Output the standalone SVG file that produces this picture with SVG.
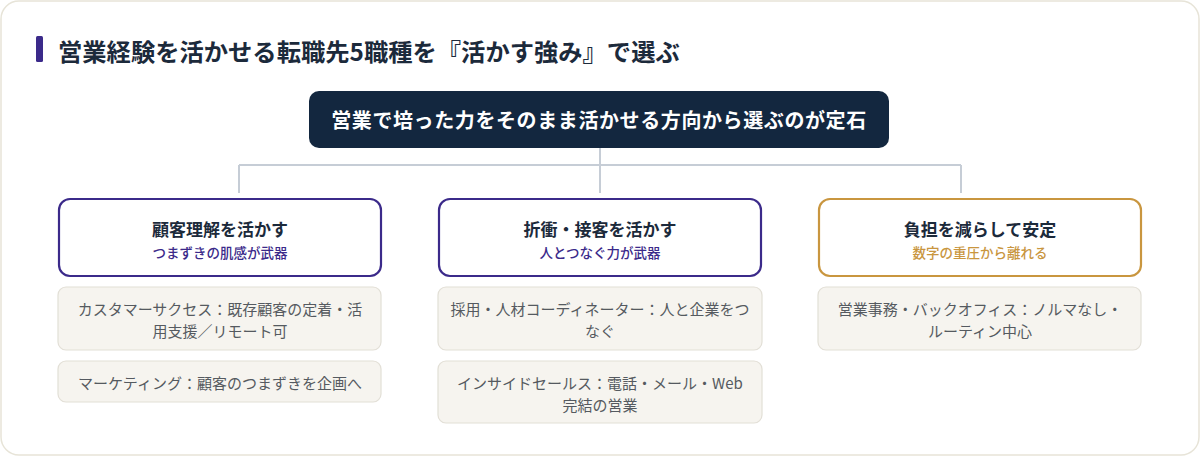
<svg xmlns="http://www.w3.org/2000/svg" width="1200" height="456" viewBox="0 0 1200 456">
<style>
text{font-family:"Noto Sans CJK JP","Noto Sans",sans-serif;text-anchor:middle;dominant-baseline:central}
.card{fill:#fff;stroke-width:2.2}
.purple{stroke:#3b2a8a}
.gold{stroke:#c9963f}
.ct{font-size:17px;font-weight:700;fill:#1c2a3b}
.cs{font-size:13.5px;font-weight:500}
.sp{fill:#3b2a8a}
.sg{fill:#c9963f}
.item{fill:#f6f4ef;stroke:#e2dfd6;stroke-width:1.2}
.it{font-size:15px;fill:#555a60}
.conn{stroke:#c6cdd6;stroke-width:2;fill:none}
</style>
<rect x="1" y="1" width="1198" height="454" rx="18" fill="#fff" stroke="#e7e4d8" stroke-width="1.5"/>
<g id="title">
<rect x="36" y="36" width="7" height="26" rx="1.5" fill="#3b2a8a"/>
<text x="58" y="50" style="text-anchor:start;font-size:24.3px;font-weight:700;fill:#1c2a3b">営業経験を活かせる転職先5職種を『活かす強み』で選ぶ</text>
</g>
<g id="connectors">
<path class="conn" d="M600 148V193M239 165H961M239 165V193M961 165V193"/>
</g>
<g id="root">
<rect x="309" y="91" width="580" height="57" rx="10" fill="#13273f"/>
<text x="599" y="119.5" style="font-size:20px;font-weight:700;fill:#fff;letter-spacing:0.6px">営業で培った力をそのまま活かせる方向から選ぶのが定石</text>
</g>
<g id="cat1">
<rect class="card purple" x="59" y="199" width="322" height="77" rx="11"/>
<text class="ct" x="220" y="228">顧客理解を活かす</text>
<text class="cs sp" x="220" y="252">つまずきの肌感が武器</text>
</g>
<g id="cat2">
<rect class="card purple" x="439" y="199" width="322" height="77" rx="11"/>
<text class="ct" x="600" y="228">折衝・接客を活かす</text>
<text class="cs sp" x="600" y="252">人とつなぐ力が武器</text>
</g>
<g id="cat3">
<rect class="card gold" x="819" y="199" width="322" height="77" rx="11"/>
<text class="ct" x="980" y="228">負担を減らして安定</text>
<text class="cs sg" x="980" y="252">数字の重圧から離れる</text>
</g>
<g id="item1">
<rect class="item" x="58" y="287" width="323" height="63" rx="8"/>
<text class="it" x="220" y="308">カスタマーサクセス：既存顧客の定着・活</text>
<text class="it" x="220" y="330">用支援／リモート可</text>
</g>
<g id="item2">
<rect class="item" x="58" y="361" width="323" height="41" rx="8"/>
<text class="it" x="220" y="382">マーケティング：顧客のつまずきを企画へ</text>
</g>
<g id="item3">
<rect class="item" x="438" y="287" width="324" height="63" rx="8"/>
<text class="it" x="600" y="308">採用・人材コーディネーター：人と企業をつ</text>
<text class="it" x="600" y="330">なぐ</text>
</g>
<g id="item4">
<rect class="item" x="438" y="361" width="324" height="62" rx="8"/>
<text class="it" x="600" y="382">インサイドセールス：電話・メール・Web</text>
<text class="it" x="600" y="404">完結の営業</text>
</g>
<g id="item5">
<rect class="item" x="818" y="287" width="323" height="63" rx="8"/>
<text class="it" x="980" y="308">営業事務・バックオフィス：ノルマなし・</text>
<text class="it" x="980" y="330">ルーティン中心</text>
</g>
</svg>
